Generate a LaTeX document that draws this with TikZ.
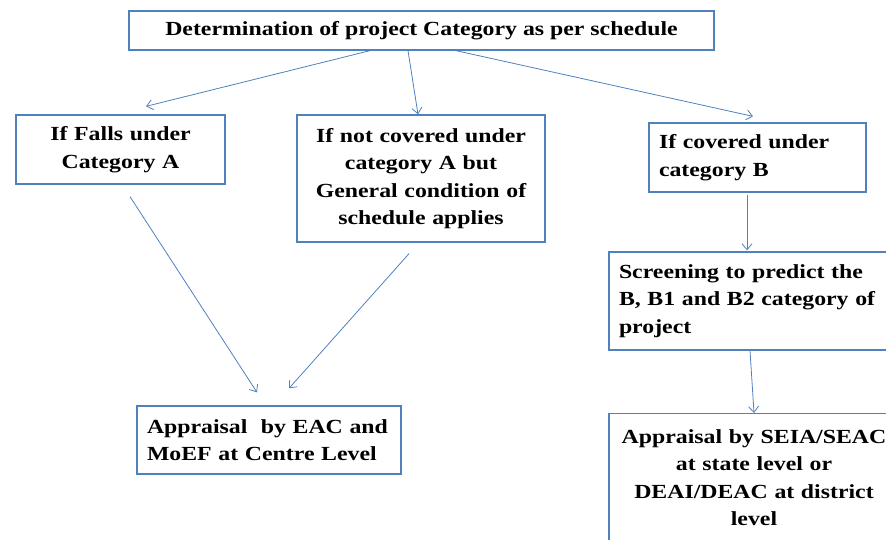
\documentclass[tikz,border=0pt]{standalone}
\usepackage{fontspec}
\setmainfont{Liberation Serif}[FakeStretch=1.19]
\usetikzlibrary{arrows.meta}
\definecolor{boxblue}{RGB}{79,129,189}
\tikzset{
  box/.style={draw=boxblue, line width=1.3pt, inner xsep=10pt, inner ysep=0pt, font=\bfseries\fontsize{20}{27.5}\selectfont},
  link/.style={draw=boxblue, line width=0.8pt, -{Straight Barb[length=6pt,width=10pt]}}
}
\begin{document}
\begin{tikzpicture}[x=1pt,y=-1pt]
    \clip (0,0) rectangle (886,539);
    \node[box, minimum width=585pt, minimum height=39pt] (top) at (421.5,30.5) {Determination of project Category as per schedule};
    \node[box, text width=189pt, align=center, minimum height=69pt] (catA) at (120.5,149.5) {If Falls under\\Category A};
    \node[box, text width=228pt, align=center, minimum height=127pt] (catG) at (421,178.5) {If not covered under\\category A but\\General condition of\\schedule applies};
    \node[box, text width=197pt, align=left, minimum height=69pt] (catB) at (757.5,157.5) {If covered under\\category B};
    \node[box, text width=266pt, align=left, minimum height=98pt] (screen) at (752,301) {Screening to predict the\\B, B1 and B2 category of\\project};
    \node[box, text width=244pt, align=left, minimum height=68pt] (appA) at (269,440) {Appraisal\ \ by EAC and\\MoEF at Centre Level};
    \node[box, text width=270pt, align=center, minimum height=128pt, anchor=north] (appB) at (754,413) {Appraisal by SEIA/SEAC\\at state level or\\DEAI/DEAC at district\\level};
    \draw[link] ([xshift=-51.5pt]top.south) -- ([xshift=25.5pt,yshift=8pt]catA.north);
    \draw[link] ([xshift=-13.5pt]top.south) -- ([xshift=-3pt]catG.north);
    \draw[link] ([xshift=34.5pt]top.south) -- ([xshift=-4.5pt,yshift=6pt]catB.north);
    \draw[link] ([xshift=-10.5pt,yshift=-2pt]catB.south) -- ([xshift=-5pt,yshift=1pt]screen.north);
    \draw[link] ([xshift=9.5pt,yshift=-12pt]catA.south) -- ([xshift=-12pt,yshift=13pt]appA.north);
    \draw[link] ([xshift=-12pt,yshift=-11pt]catG.south) -- ([xshift=20pt,yshift=17pt]appA.north);
    \draw[link] ([xshift=-2pt]screen.south) -- (appB.north);
\end{tikzpicture}
\end{document}
